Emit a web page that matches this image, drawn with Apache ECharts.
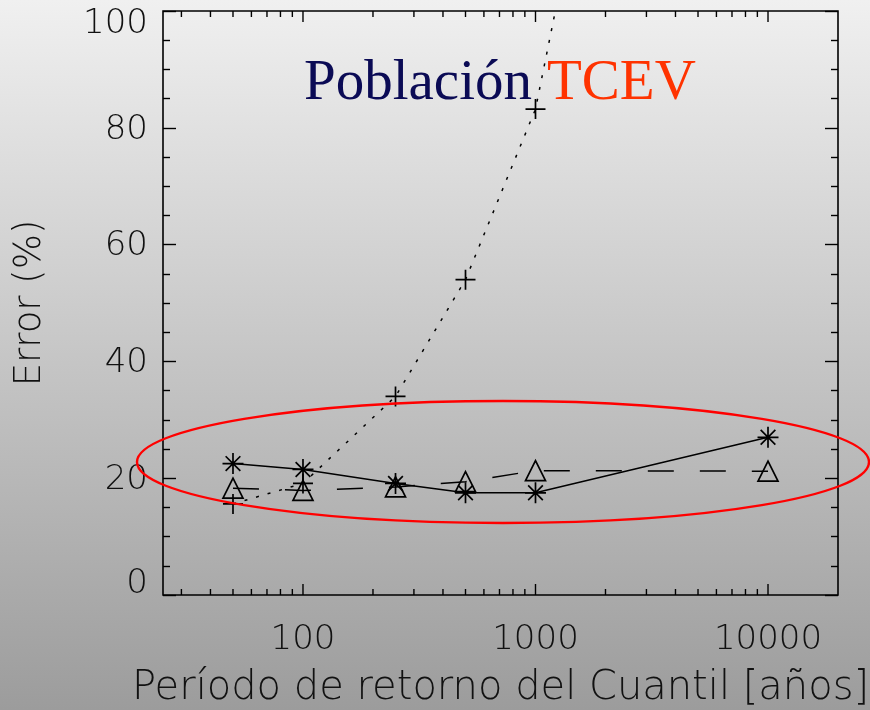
<!DOCTYPE html>
<html>
<head>
<meta charset="utf-8">
<script src="https://cdn.jsdelivr.net/npm/echarts@6/dist/echarts.min.js"></script>
<style>
  html, body { margin: 0; padding: 0; width: 870px; height: 710px; overflow: hidden; }
  #chart { width: 870px; height: 710px; }
</style>
</head>
<body>
<div id="chart"></div>
<script>
// Return periods (years) at which each estimator was evaluated
const periods = [50, 100, 250, 500, 1000, 10000];
// Relative error (%) per estimator
const errPlus = [15.6, 19.1, 34.0, 54.0, 83.2, 280];
const errTriangle = [18.3, 17.9, 18.5, 19.4, 21.3, 21.2];
const errStar = [22.5, 21.5, 19.1, 17.5, 17.5, 27.0];

// Axis ticks
const xMajorTicks = [100, 1000, 10000];
const xMinorTicks = [30, 40, 50, 60, 70, 80, 90,
                     200, 300, 400, 500, 600, 700, 800, 900,
                     2000, 3000, 4000, 5000, 6000, 7000, 8000, 9000];
const xMin = 25, xMax = 20000;
const yMin = 0, yMax = 100, yStep = 20;

const labelFont = 'DejaVu Sans';
const labelWeight = 200;

const pair = (xs, ys) => xs.map((x, i) => [x, ys[i]]);

const symPlus = 'path://M0,10L20,10M10,0L10,20';
const symStar = 'path://M0,10L20,10M10,0L10,20M3,3L17,17M17,3L3,17';
const symTriangle = 'path://M10,0L20,20L0,20Z';

const tickMarks = xMajorTicks.map(v => [v, 1]).concat(xMinorTicks.map(v => [v, 0]));

const chart = echarts.init(document.getElementById('chart'), null, { renderer: 'canvas' });

const yAxisBase = {
  type: 'value', min: yMin, max: yMax, interval: yStep,
  axisLine: { show: false },
  splitLine: { show: false },
  axisTick: { show: true, inside: true, length: 13, lineStyle: { color: '#000', width: 1.4 } },
  minorTick: { show: true, splitNumber: 4, length: 7, lineStyle: { color: '#000', width: 1.4 } }
};

const yLabelStyle = { fontSize: 34, fontFamily: labelFont, fontWeight: labelWeight, color: '#111' };

chart.setOption({
  animation: false,
  backgroundColor: {
    type: 'linear', x: 0, y: 0, x2: 0, y2: 1,
    colorStops: [{ offset: 0, color: '#f0f0f0' }, { offset: 1, color: '#9c9c9c' }]
  },
  grid: {
    left: 163, right: 32, top: 11, bottom: 115,
    outerBoundsMode: 'none', containLabel: false,
    show: true, borderColor: '#000', borderWidth: 1.6, backgroundColor: 'transparent'
  },
  xAxis: {
    type: 'log', logBase: 10, min: xMin, max: xMax,
    axisLine: { show: false },
    axisTick: { show: false },
    splitLine: { show: false },
    axisLabel: {
      margin: 28, fontSize: 34, fontFamily: labelFont, fontWeight: labelWeight, color: '#111',
      formatter: v => xMajorTicks.some(t => Math.abs(t - v) / t < 1e-6) ? String(Math.round(v)) : ''
    },
    name: 'Período de retorno del Cuantil [años]',
    nameLocation: 'middle', nameGap: 74,
    nameTextStyle: { fontSize: 40, fontFamily: labelFont, fontWeight: labelWeight, color: '#111' }
  },
  yAxis: [
    Object.assign({}, yAxisBase, {
      position: 'left',
      axisLabel: {
        margin: 15,
        formatter: v => v === yMax ? '{top|' + v + '}' : v === yMin ? '{bot|' + v + '}' : '{mid|' + v + '}',
        rich: {
          top: Object.assign({ padding: [26, 0, 0, 0] }, yLabelStyle),
          bot: Object.assign({ padding: [0, 0, 22, 0] }, yLabelStyle),
          mid: Object.assign({ padding: [4, 0, 0, 0] }, yLabelStyle)
        }
      },
      name: 'Error (%)', nameLocation: 'middle', nameGap: 114,
      nameTextStyle: { fontSize: 37, fontFamily: labelFont, fontWeight: labelWeight, color: '#111' }
    }),
    Object.assign({}, yAxisBase, {
      position: 'right',
      axisLabel: { show: false }
    })
  ],
  graphic: [
    {
      type: 'ellipse', z: 100, silent: true,
      shape: { cx: 503, cy: 462, rx: 366, ry: 61 },
      style: { fill: 'none', stroke: '#ff0000', lineWidth: 2.4 }
    },
    {
      type: 'text', left: 304, top: 56, z: 100, silent: true,
      style: { text: 'Población', fontFamily: 'Liberation Serif', fontSize: 57, fill: '#0b0b55' }
    },
    {
      type: 'text', left: 547, top: 56, z: 100, silent: true,
      style: { text: 'TCEV', fontFamily: 'Liberation Serif', fontSize: 57, fill: '#ff3300' }
    }
  ],
  series: [
    {
      type: 'custom', coordinateSystem: 'cartesian2d', silent: true, z: 5,
      data: tickMarks,
      renderItem(params, api) {
        const v = api.value(0);
        const len = api.value(1) ? 11 : 6;
        const b = api.coord([v, yMin]);
        const t = api.coord([v, yMax]);
        const st = { stroke: '#000', lineWidth: 1.4 };
        return {
          type: 'group', children: [
            { type: 'line', shape: { x1: b[0], y1: b[1], x2: b[0], y2: b[1] - len }, style: st },
            { type: 'line', shape: { x1: t[0], y1: t[1], x2: t[0], y2: t[1] + len }, style: st }
          ]
        };
      }
    },
    {
      type: 'line', data: pair(periods, errPlus), clip: true,
      symbol: symPlus, symbolSize: 20,
      itemStyle: { color: 'none', borderColor: '#000', borderWidth: 1.7 },
      lineStyle: { color: '#000', width: 1.5, type: [3, 9] }
    },
    {
      type: 'line', data: pair(periods, errTriangle), clip: true,
      symbol: symTriangle, symbolSize: 20,
      itemStyle: { color: 'none', borderColor: '#000', borderWidth: 1.7 },
      lineStyle: { color: '#000', width: 1.5, type: [26, 26] }
    },
    {
      type: 'line', data: pair(periods, errStar), clip: true,
      symbol: symStar, symbolSize: 21,
      itemStyle: { color: 'none', borderColor: '#000', borderWidth: 1.7 },
      lineStyle: { color: '#000', width: 1.5, type: 'solid' }
    }
  ]
});
</script>
</body>
</html>
